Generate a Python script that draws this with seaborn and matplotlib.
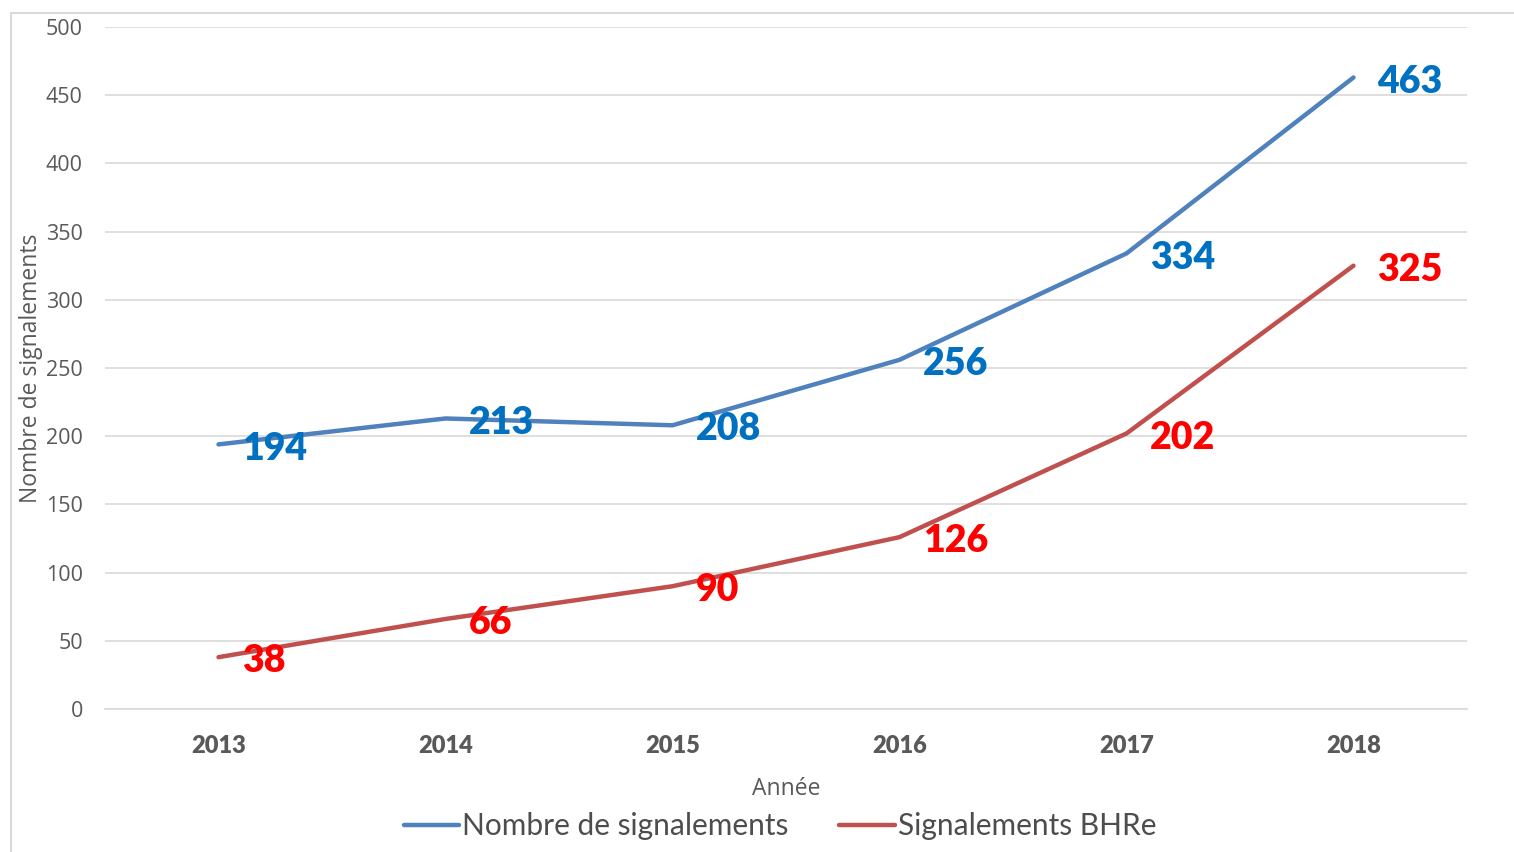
import matplotlib
matplotlib.use("Agg")
import matplotlib.pyplot as plt
from matplotlib.patches import Rectangle
from matplotlib.lines import Line2D
import seaborn as sns
import pandas as pd

years = ["2013", "2014", "2015", "2016", "2017", "2018"]
total_reports = [194, 213, 208, 256, 334, 463]
bhre_reports = [38, 66, 90, 126, 202, 325]
series_names = ["Nombre de signalements", "Signalements BHRe"]

line_colors = ["#4F81BD", "#C0504D"]
label_colors = ["#0070C0", "#FF0000"]

df = pd.DataFrame({
    "Année": years * 2,
    "valeur": total_reports + bhre_reports,
    "serie": [series_names[0]] * len(years) + [series_names[1]] * len(years),
})

sns.set_theme(style="white")
plt.rcParams["font.family"] = ["Open Sans", "DejaVu Sans"]
lato = ["Lato", "DejaVu Sans"]

fig = plt.figure(figsize=(15.14, 8.52), dpi=100)
ax = fig.add_axes([105 / 1514, 1 - 709 / 852, 1362 / 1514, 682 / 852])

sns.lineplot(data=df, x="Année", y="valeur", hue="serie", palette=line_colors,
             linewidth=3.2, sort=False, legend=False, ax=ax,
             solid_capstyle="round", zorder=3)

# data labels to the right of each point
for vals, col in zip([total_reports, bhre_reports], label_colors):
    for i, v in enumerate(vals):
        ax.annotate(str(v), (i, v), xytext=(17, -3), textcoords="offset points",
                    ha="left", va="center", color=col, fontsize=27,
                    fontweight="heavy", family=lato, zorder=4)

ax.set_xlim(-0.5, 5.5)
ax.set_ylim(0, 500)
ax.set_yticks(range(0, 501, 50))
ax.yaxis.grid(True, color="#D9D9D9", linewidth=1.2)
ax.xaxis.grid(False)
for s in ["top", "right", "left"]:
    ax.spines[s].set_visible(False)
ax.spines["bottom"].set_color("#D9D9D9")
ax.spines["bottom"].set_linewidth(1.2)

ax.tick_params(axis="y", labelsize=15.5, labelcolor="#595959", length=0, pad=16)
ax.tick_params(axis="x", labelcolor="#595959", length=0, pad=19)
for t in ax.get_xticklabels():
    t.set_fontweight("heavy")
    t.set_fontsize(17)
    t.set_family(lato)

ax.set_xlabel("Année", fontsize=16.5, color="#595959", labelpad=14)
ax.set_ylabel("Nombre de signalements", fontsize=16.5, color="#595959", va="center")
ax.yaxis.set_label_coords(-0.0545, 0.5)

handles = [Line2D([], [], color=c, linewidth=3.2, solid_capstyle="round") for c in line_colors]
fig.legend(handles, series_names, loc="center", bbox_to_anchor=(780 / 1514, 1 - 826 / 852),
           ncol=2, frameon=False, handlelength=1.85, handletextpad=0.1, columnspacing=1.7,
           prop={"family": lato, "size": 21.5}, labelcolor="#4D4D4D")

fig.patches.append(Rectangle((11 / 1514, -0.05), 1.1, 0.05 + 1 - 13 / 852, transform=fig.transFigure,
                             fill=False, edgecolor="#D9D9D9", linewidth=1.5))

fig.savefig("out.png", dpi=100, facecolor="white")
